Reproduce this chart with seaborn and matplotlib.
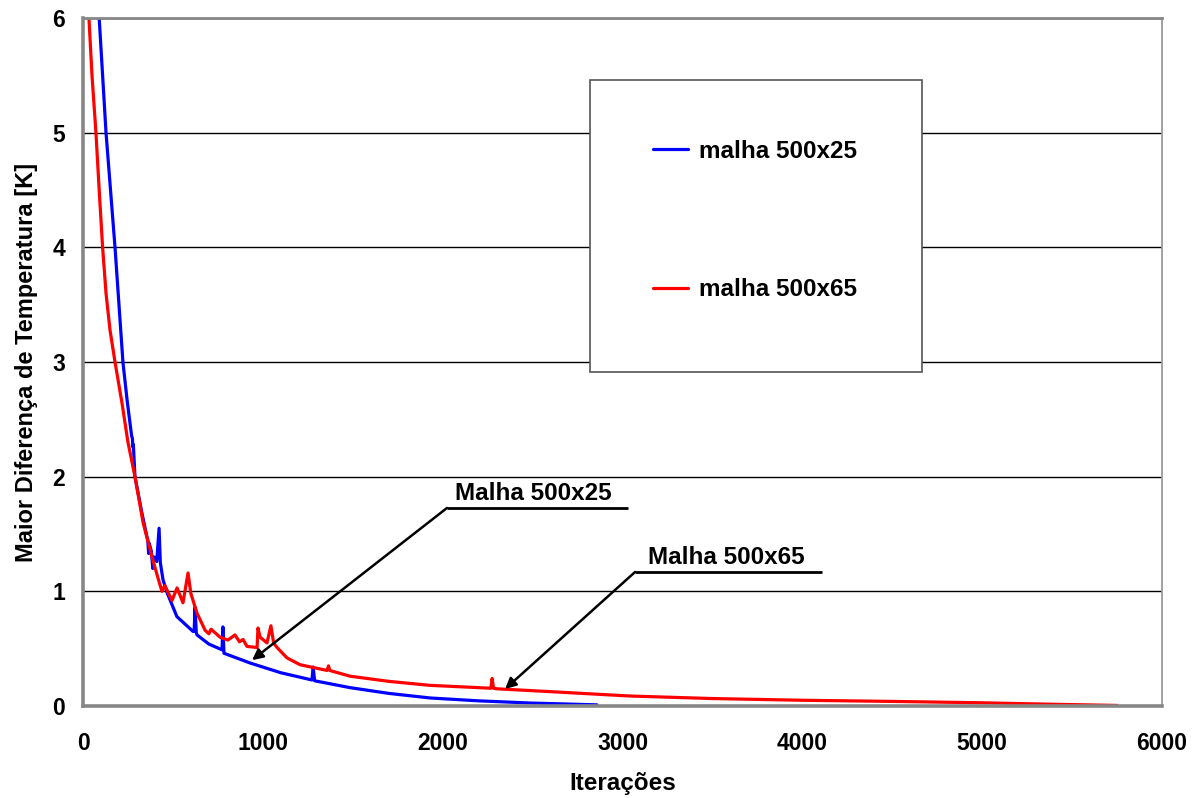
import matplotlib
matplotlib.use("Agg")
import matplotlib.pyplot as plt
from matplotlib.patches import Rectangle
import seaborn as sns
import pandas as pd

# Convergence history: largest temperature difference per iteration
iter_25 = [75, 90, 128, 178, 222, 245, 270, 275, 277, 280, 289, 328, 355, 360, 365,
           368, 380, 388, 395, 410, 423, 430, 445, 467, 522, 612, 618, 623, 630, 634,
           700, 773, 778, 784, 929, 1100, 1273, 1280, 1288, 1485, 1700, 1930, 2200,
           2486, 2858]
diff_25 = [6.4, 6.0, 5.0, 4.0, 3.0, 2.67, 2.36, 2.33, 2.26, 2.28, 2.0, 1.68, 1.48, 1.45,
           1.33, 1.42, 1.35, 1.20, 1.30, 1.26, 1.55, 1.25, 1.10, 0.99, 0.78, 0.65, 0.65,
           0.86, 0.64, 0.62, 0.54, 0.49, 0.69, 0.46, 0.375, 0.29, 0.227, 0.34, 0.22,
           0.16, 0.11, 0.07, 0.045, 0.026, 0.01]

iter_65 = [25, 33, 50, 72, 90, 109, 128, 150, 178, 217, 250, 289, 334, 389, 420, 439,
           455, 495, 523, 556, 584, 600, 634, 679, 700, 712, 762, 806, 845, 870, 890,
           912, 968, 973, 985, 1023, 1045, 1060, 1079, 1134, 1207, 1357, 1365, 1372,
           1485, 1700, 1930, 2268, 2275, 2283, 2302, 2600, 3042, 3500, 4000, 4500,
           5000, 5400, 5750]
diff_65 = [6.6, 6.0, 5.5, 5.0, 4.5, 4.0, 3.6, 3.28, 3.0, 2.64, 2.3, 2.0, 1.6, 1.27, 1.1,
           1.0, 1.05, 0.92, 1.03, 0.90, 1.16, 0.98, 0.81, 0.66, 0.63, 0.67, 0.60, 0.575,
           0.62, 0.56, 0.58, 0.52, 0.51, 0.68, 0.60, 0.55, 0.70, 0.55, 0.51, 0.42, 0.36,
           0.31, 0.35, 0.31, 0.26, 0.215, 0.18, 0.155, 0.24, 0.155, 0.15, 0.125, 0.087,
           0.065, 0.05, 0.04, 0.028, 0.015, 0.005]

series_names = ["malha 500x25", "malha 500x65"]
series_colors = ["#0000FF", "#FF0000"]

x_ticks = [0, 1000, 2000, 3000, 4000, 5000, 6000]
y_ticks = [0, 1, 2, 3, 4, 5, 6]

df = pd.concat([
    pd.DataFrame({"Iterações": iter_25, "dT": diff_25, "malha": series_names[0]}),
    pd.DataFrame({"Iterações": iter_65, "dT": diff_65, "malha": series_names[1]}),
], ignore_index=True)

sns.set_style("white")
plt.rcParams["font.family"] = ["Liberation Sans", "DejaVu Sans"]
plt.rcParams["font.weight"] = "bold"
plt.rcParams["text.color"] = "black"
plt.rcParams["axes.labelcolor"] = "black"

fig = plt.figure(figsize=(12.02, 7.98), dpi=100)
ax = fig.add_axes([83 / 1202, 1 - 706 / 798, (1162 - 83) / 1202, (706 - 18) / 798])

sns.lineplot(data=df, x="Iterações", y="dT", hue="malha", sort=False, estimator=None,
             palette=dict(zip(series_names, series_colors)), linewidth=2.3, ax=ax,
             legend=False, zorder=2)

ax.set_xlim(0, 6000)
ax.set_ylim(0, 6)
ax.set_xticks(x_ticks)
ax.set_yticks(y_ticks)

# horizontal gridlines only
ax.set_axisbelow(True)
ax.yaxis.grid(True, color="black", linewidth=1.0)
ax.xaxis.grid(False)

gray = "#878787"
for side in ["left", "bottom"]:
    ax.spines[side].set_color(gray)
    ax.spines[side].set_linewidth(2.6)
ax.spines["top"].set_color(gray)
ax.spines["top"].set_linewidth(2.0)
ax.spines["right"].set_color("#9a9a9a")
ax.spines["right"].set_linewidth(1.3)

ax.tick_params(axis="both", direction="out", length=6, width=2.6, color=gray,
               labelsize=16.5, labelcolor="black")
ax.tick_params(axis="x", pad=13)
ax.tick_params(axis="y", pad=7)
for lbl in ax.get_xticklabels() + ax.get_yticklabels():
    lbl.set_fontweight("bold")

ax.set_xlabel("Iterações", fontsize=17.5, fontweight="bold", labelpad=12, color="black")
ax.set_ylabel("Maior Diferença de Temperatura [K]", fontsize=17, fontweight="bold",
              labelpad=10, color="black")

# legend box
box = Rectangle((0.470, 0.4855), 0.308, 0.4245, transform=ax.transAxes,
                facecolor="white", edgecolor="#555555", linewidth=1.2, zorder=3)
ax.add_patch(box)
handles = ax.get_lines()[:2]
leg = ax.legend(handles, series_names, loc="upper left", bbox_to_anchor=(0.528, 0.823),
                frameon=False, borderaxespad=0, borderpad=0, handlelength=1.45,
                handletextpad=0.45, labelspacing=4.75,
                prop={"size": 17.5, "weight": "bold"})
for t in leg.get_texts():
    t.set_color("black")
leg.set_zorder(4)

# annotations with underline and arrow
notes = [
    ("Malha 500x25", 2024, 3031, 1.727, 45, 940, 0.40),
    ("Malha 500x65", 3070, 4109, 1.169, 72, 2347, 0.148),
]
for text, x0, x1, yl, dx, xt, yt in notes:
    ax.plot([x0, x1], [yl, yl], color="black", linewidth=2.0, zorder=5,
            solid_capstyle="butt")
    ax.text(x0 + dx, yl + 0.025, text, fontsize=17.5, fontweight="bold",
            color="black", ha="left", va="bottom", zorder=5)
    ax.annotate("", xy=(xt, yt), xytext=(x0, yl),
                arrowprops=dict(arrowstyle="-|>", color="black", lw=1.8,
                                mutation_scale=16, shrinkA=0, shrinkB=0),
                zorder=5)

fig.savefig("out.png", dpi=100)
